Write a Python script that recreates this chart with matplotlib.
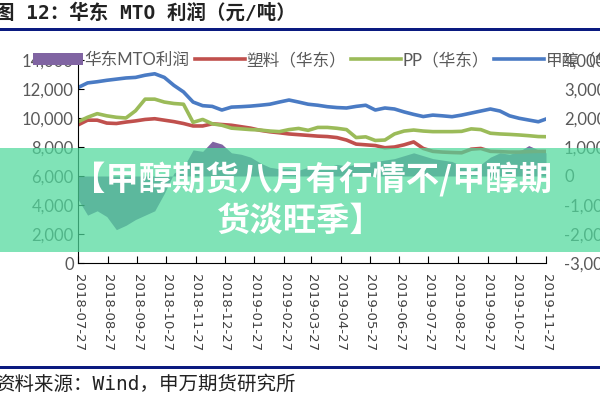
import matplotlib.pyplot as plt
import matplotlib.dates as mdates
from matplotlib.patches import Rectangle
import pandas as pd

# data (roughly every 10 days)
dates = list(pd.date_range("2018-07-27", periods=49, freq="10D")) + [pd.Timestamp("2019-11-27")]

plastic = [9520, 9850, 9850, 9650, 9620, 9720, 9800, 9900, 9950, 9850,
           9750, 9620, 9450, 9450, 9600, 9550, 9500, 9400, 9300, 9150,
           9050, 8980, 8900, 8850, 8800, 8750, 8720, 8650, 8480, 8200,
           8150, 8100, 7950, 8000, 8150, 8350, 7900, 7700, 7650, 7620,
           7600, 7850, 7900, 7700, 7680, 7650, 7650, 7680, 7700, 7700]

pp = [9740, 10050, 10300, 10150, 10050, 10000, 10500, 11300, 11300, 11100,
      11000, 10950, 9700, 9900, 9600, 9500, 9300, 9250, 9200, 9170,
      9100, 9060, 9200, 9280, 9150, 9350, 9350, 9290, 9200, 8650,
      8700, 8450, 8480, 8900, 9100, 9170, 9100, 9060, 9060, 9060,
      9080, 9250, 9200, 8950, 8900, 8870, 8830, 8780, 8720, 8710]

methanol = [3050, 3210, 3250, 3300, 3340, 3380, 3400, 3475, 3525, 3400,
            3125, 2900, 2550, 2425, 2400, 2275, 2375, 2390, 2410, 2440,
            2475, 2550, 2620, 2550, 2475, 2440, 2390, 2360, 2345, 2400,
            2440, 2275, 2345, 2310, 2210, 2125, 2050, 2100, 2075, 2045,
            2100, 2170, 2240, 2310, 2240, 2075, 1990, 1930, 1870, 1965]

mto_profit = [-800, -1350, -1200, -1400, -1850, -1700, -1500, -1350, -1200, -600,
              100, 300, 900, 850, 1200, 1100, 800, 750, 650, 450,
              300, 250, 250, 200, 300, 350, 300, 400, 350, 400,
              450, 500, 550, 600, 700, 800, 700, 600, 550, 500,
              350, 200, 400, 650, 800, 750, 850, 1050, 900, 800]

tick_labels = ["2018-07-27", "2018-08-27", "2018-09-27", "2018-10-27", "2018-11-27",
               "2018-12-27", "2019-01-27", "2019-02-27", "2019-03-27", "2019-04-27",
               "2019-05-27", "2019-06-27", "2019-07-27", "2019-08-27", "2019-09-27",
               "2019-10-27", "2019-11-27"]
tick_dates = pd.to_datetime(tick_labels)

plt.rcParams["font.family"] = ["Lato", "Noto Sans CJK SC", "DejaVu Sans"]
mono_cjk = ["DejaVu Sans Mono", "Noto Sans CJK SC"]

fig = plt.figure(figsize=(6, 4), dpi=100)
ax = fig.add_axes([0.13, 0.3425, 0.78, 0.5075])
ax2 = ax.twinx()

ax2.fill_between(dates, 0, mto_profit, color="#8064a2", lw=0, label="华东MTO利润")
ax.plot(dates, plastic, color="#c0504d", lw=2.6, label="塑料（华东）")
ax.plot(dates, pp, color="#9bbb59", lw=2.6, label="PP（华东）")
ax2.plot(dates, methanol, color="#4a7bc4", lw=2.6, label="甲醇（华东）")

ax.set_zorder(ax2.get_zorder() + 1)
ax.patch.set_visible(False)

ax.set_ylim(0, 14000)
ax2.set_ylim(-3000, 4000)
ax.set_yticks(range(0, 14001, 2000))
ax.set_yticklabels([f"{v:,}" for v in range(0, 14001, 2000)])
ax2.set_yticks(range(-3000, 4001, 1000))
ax2.set_yticklabels([f"{v:,}" for v in range(-3000, 4001, 1000)])
ax.set_xlim(pd.Timestamp("2018-07-27"), pd.Timestamp("2019-11-27"))
ax.set_xticks(tick_dates)
ax.xaxis.set_major_formatter(mdates.DateFormatter("%Y-%m-%d"))

for s in ["top", "right"]:
    ax.spines[s].set_visible(False)
for s in ["top", "right", "left", "bottom"]:
    ax2.spines[s].set_visible(False)
ax.tick_params(axis="y", direction="in", length=4, labelsize=12, labelcolor="#595959", pad=3)
ax.tick_params(axis="x", direction="in", length=5, labelsize=9.5, labelcolor="#404040",
               labelrotation=-90, pad=8)
ax2.tick_params(axis="y", length=0, labelsize=12, labelcolor="#595959", pad=13)
for lbl in ax.get_xticklabels():
    lbl.set_family("DejaVu Sans")

h2, l2 = ax2.get_legend_handles_labels()
h1, l1 = ax.get_legend_handles_labels()
leg = fig.legend([h2[0], h1[0], h1[1], h2[1]], [l2[0], l1[0], l1[1], l2[1]],
                 loc="center left", bbox_to_anchor=(0.03, 0.85), ncol=4, frameon=False,
                 fontsize=12, handlelength=3.0, columnspacing=0.3, handletextpad=0.1,
                 labelcolor="#595959")

# header / footer
fig.text(-0.008, 0.967, "图 12：华东 MTO 利润（元/吨）", fontsize=14, fontweight="bold",
         family=mono_cjk, va="center", ha="left", color="#222222")
fig.add_artist(Rectangle((0, 0.922), 1, 0.008, transform=fig.transFigure,
                         color="#0a1a80", lw=0))
fig.add_artist(Rectangle((0, 0.077), 1, 0.008, transform=fig.transFigure,
                         color="#0a1a80", lw=0))
fig.text(-0.008, 0.04, "资料来源：Wind，申万期货研究所", fontsize=14,
         family=mono_cjk, va="center", ha="left", color="#222222")

# banner overlay
fig.add_artist(Rectangle((0, 0.37), 1, 0.26, transform=fig.transFigure,
                         color="#4fd99c", alpha=0.72, lw=0, zorder=10))
fig.text(0.52, 0.55, "【甲醇期货八月有行情不/甲醇期", fontsize=24,
         fontweight="heavy", family=["Noto Sans CJK SC"], color="white",
         ha="center", va="center", zorder=11)
fig.text(0.50, 0.447, "货淡旺季】", fontsize=24,
         fontweight="heavy", family=["Noto Sans CJK SC"], color="white",
         ha="center", va="center", zorder=11)

fig.savefig("out.png", dpi=100)
